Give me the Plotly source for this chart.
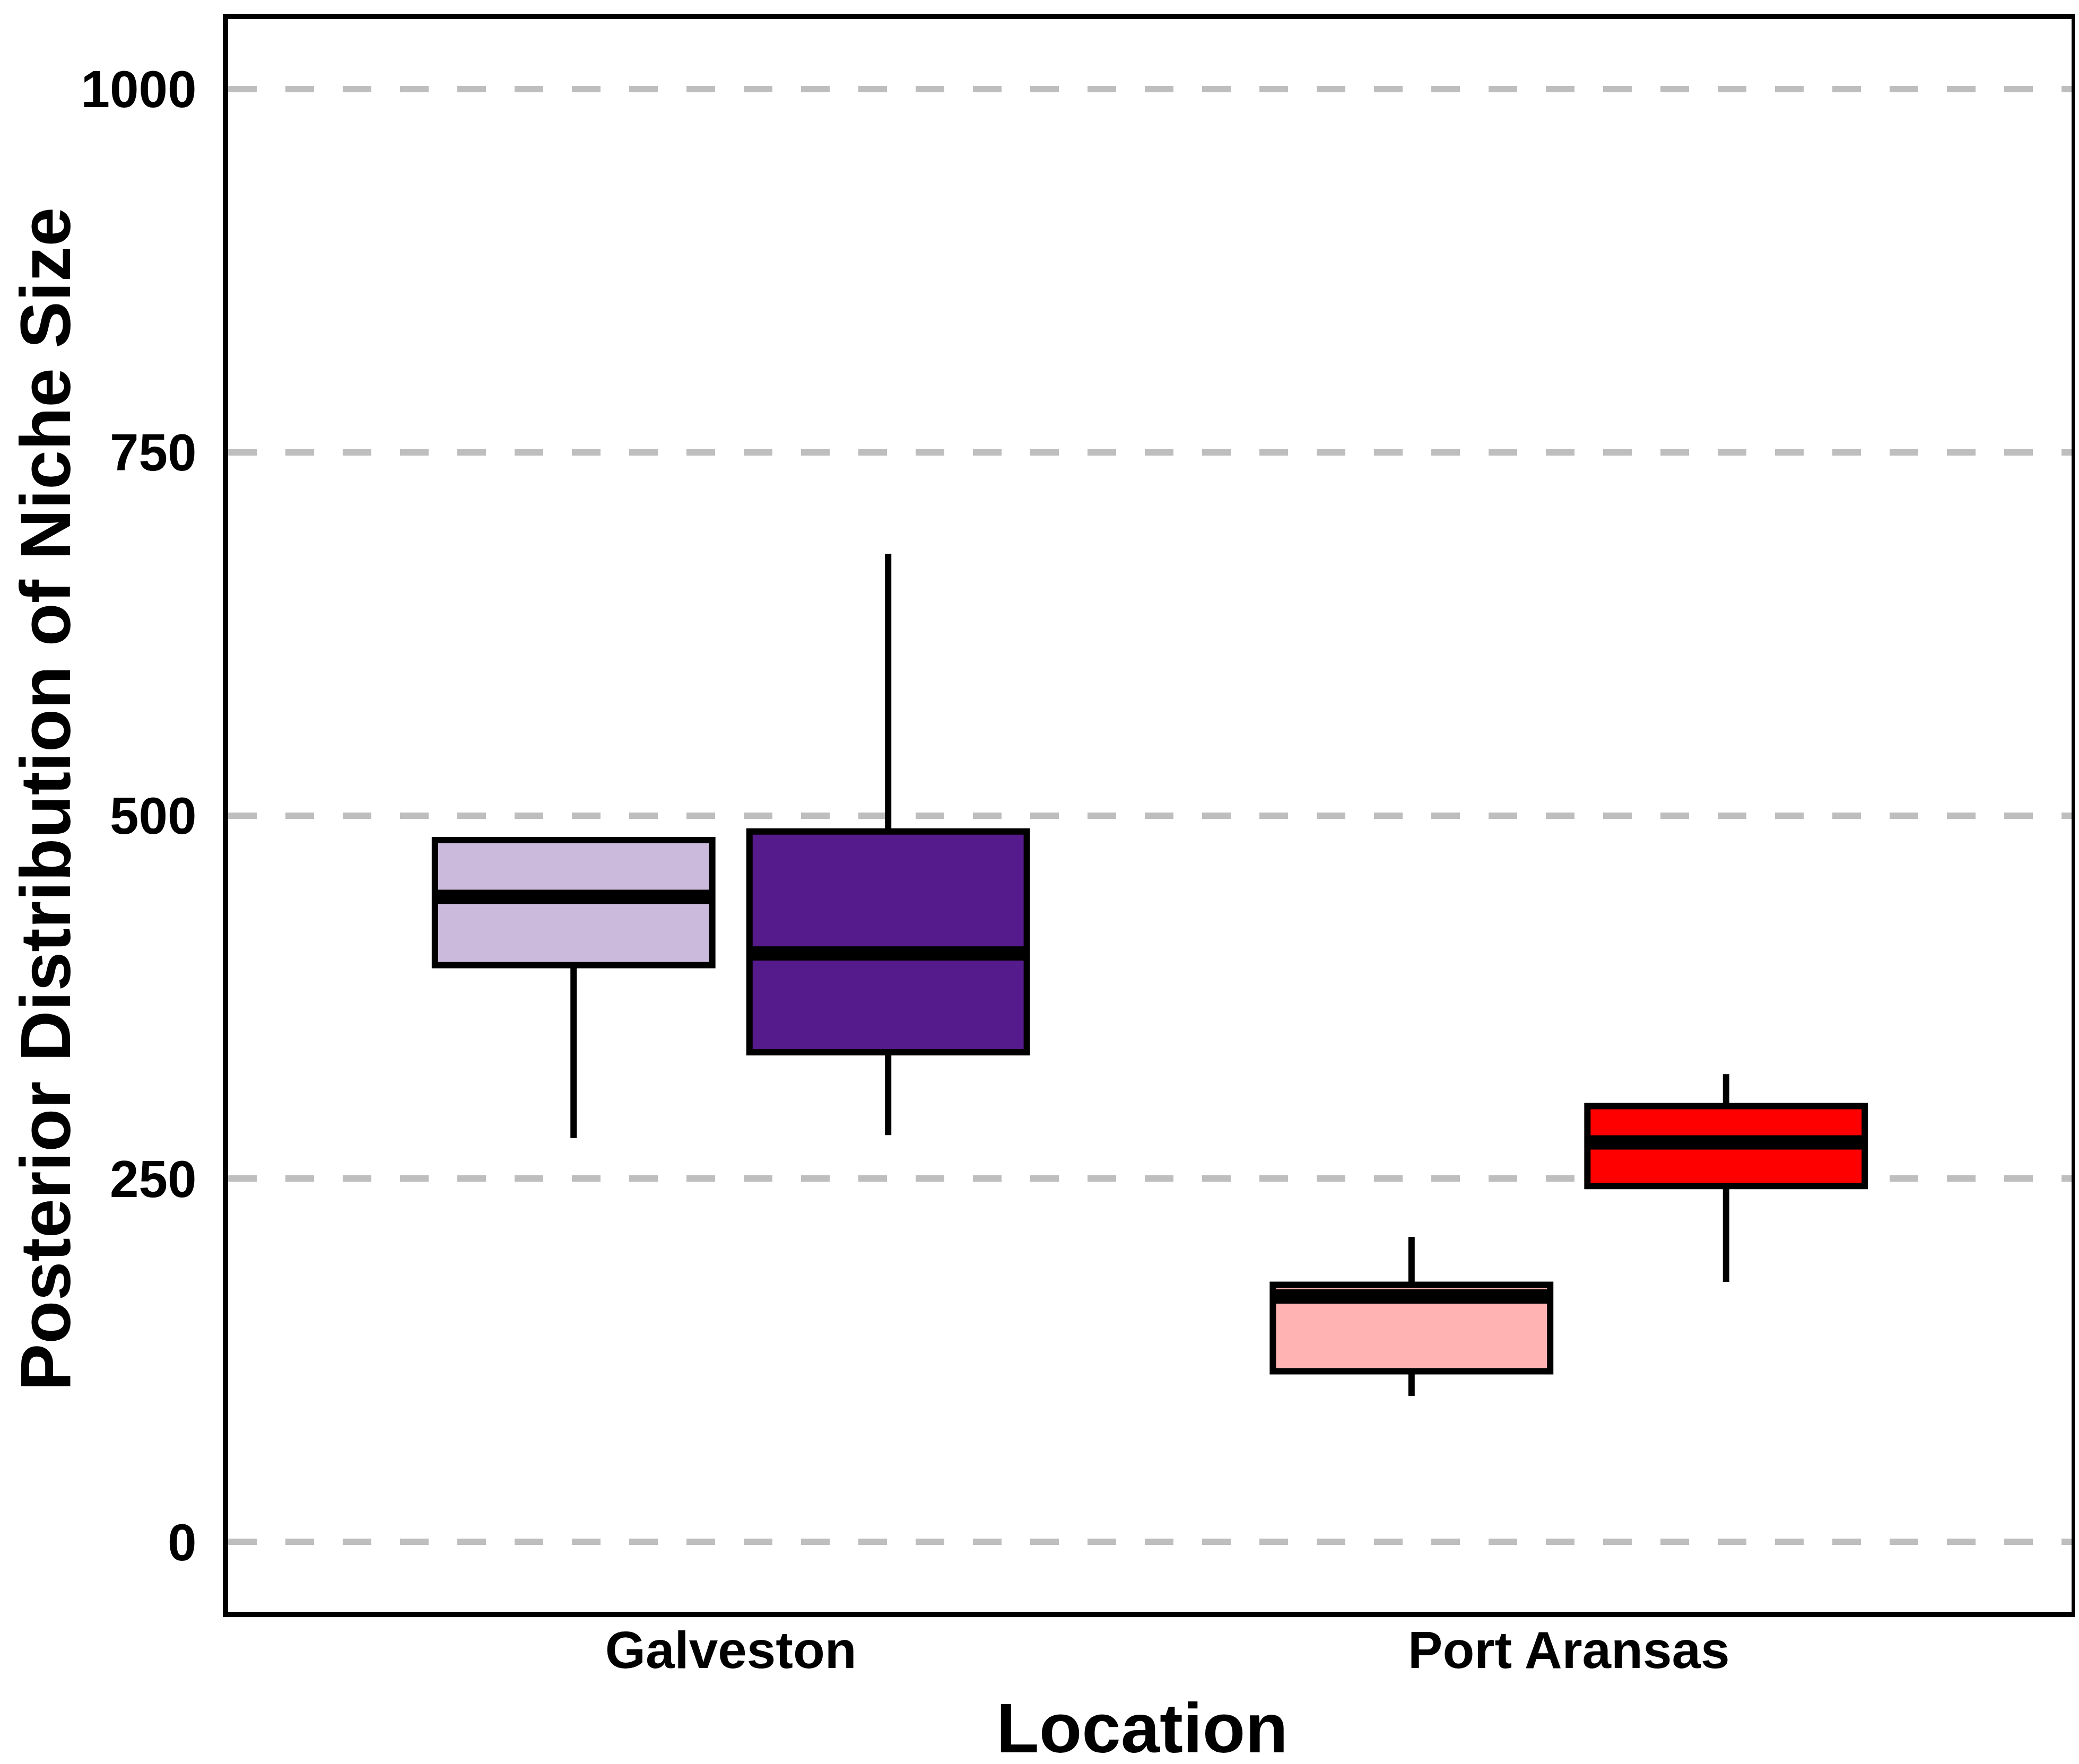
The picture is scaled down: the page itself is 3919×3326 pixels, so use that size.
import plotly.graph_objects as go

# ---------------- data ----------------
locations = ["Galveston", "Port Aransas"]
tick_values = [0, 250, 500, 750, 1000]
x_title = "Location"
y_title = "Posterior Distribution of Niche Size"

# series 1 (light boxes)
light_q1 = [397, 117.5]
light_median = [444, 169]
light_q3 = [483, 177]
light_lower = [278, 100.5]
light_upper = [483, 210]
light_colors = ["#CCBADC", "#FFB3B3"]

# series 2 (dark boxes)
dark_q1 = [337, 245]
dark_median = [405, 275]
dark_q3 = [489, 300]
dark_lower = [280, 179]
dark_upper = [680, 322]
dark_colors = ["#551A8B", "#FF0000"]

# ---------------- layout params ----------------
BOX_W = 0.331
OFFSET = 0.1877
LINE_W = 12
MEDIAN_W = 27
FONT = "Liberation Sans"

fig = go.Figure()

series = [
    (-OFFSET, light_q1, light_median, light_q3, light_lower, light_upper, light_colors),
    (OFFSET, dark_q1, dark_median, dark_q3, dark_lower, dark_upper, dark_colors),
]

for off, q1, med, q3, lo, up, cols in series:
    for i, loc in enumerate(locations):
        xc = i + off
        fig.add_trace(go.Box(
            x=[xc], q1=[q1[i]], median=[med[i]], q3=[q3[i]],
            lowerfence=[lo[i]], upperfence=[up[i]],
            width=BOX_W, whiskerwidth=0,
            fillcolor=cols[i],
            line=dict(color="black", width=LINE_W),
            boxpoints=False, showlegend=False, hoverinfo="skip",
        ))

for off, q1, med, q3, lo, up, cols in series:
    for i, loc in enumerate(locations):
        xc = i + off
        fig.add_trace(go.Scatter(
            x=[xc - BOX_W / 2, xc + BOX_W / 2], y=[med[i], med[i]],
            mode="lines", line=dict(color="black", width=MEDIAN_W),
            showlegend=False, hoverinfo="skip",
        ))

fig.update_layout(
    width=3919, height=3326,
    margin=dict(l=422, r=22, t=28, b=295, autoexpand=False),
    paper_bgcolor="white", plot_bgcolor="white",
    font=dict(family=FONT, color="black"),
)

fig.update_xaxes(
    range=[-0.6, 1.6],
    tickvals=list(range(len(locations))), ticktext=locations,
    tickfont=dict(family=FONT, size=98, weight="bold", color="black"),
    showgrid=False, zeroline=False,
    showline=True, mirror=True, linecolor="black", linewidth=10,
    ticks="", ticklabelstandoff=-22,
)

fig.update_yaxes(
    range=[-48, 1048],
    tickvals=tick_values, ticktext=[str(v) for v in tick_values],
    tickfont=dict(family=FONT, size=98, weight="bold", color="black"),
    showgrid=True, gridcolor="#BEBEBE", gridwidth=12, griddash="54px,54px",
    zeroline=False,
    showline=True, mirror=True, linecolor="black", linewidth=10,
    ticks="", ticklabelstandoff=30,
)

# axis titles
fig.add_annotation(
    text=x_title, xref="paper", yref="paper", x=0.4957, y=-0.073,
    xanchor="center", yanchor="middle", showarrow=False,
    font=dict(family=FONT, size=132, weight="bold", color="black"),
)
fig.add_annotation(
    text=y_title, xref="paper", yref="paper", x=-0.0990, y=0.5103,
    xanchor="center", yanchor="middle", showarrow=False, textangle=-90,
    font=dict(family=FONT, size=133, weight="bold", color="black"),
)

fig.write_html("out.html")
